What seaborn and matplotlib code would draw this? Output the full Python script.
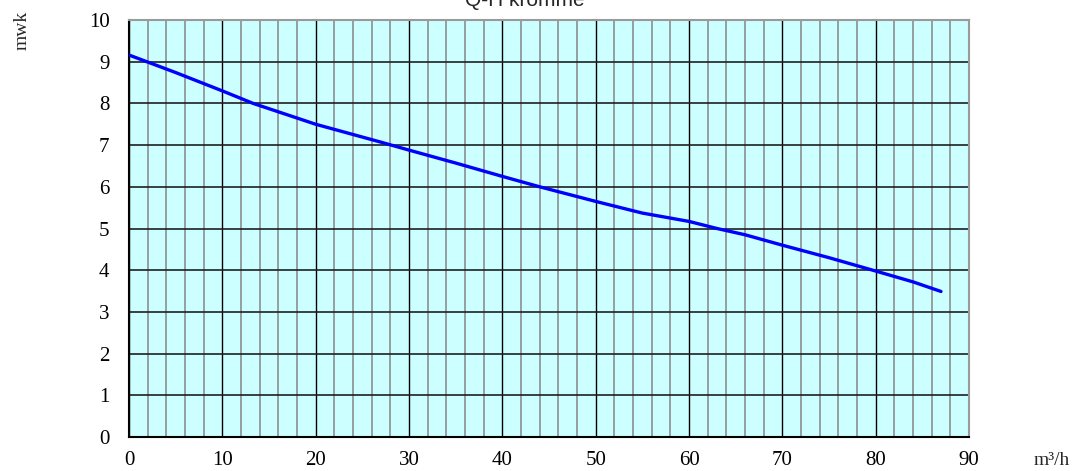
import matplotlib
matplotlib.use("Agg")
import matplotlib.pyplot as plt
import seaborn as sns
import pandas as pd
import numpy as np

flow = [0, 5, 10, 13.3, 20, 27, 30, 35, 40, 44, 50, 55, 60, 63, 66, 70, 75, 80, 84, 87]
head = [9.16, 8.74, 8.30, 8.0, 7.5, 7.07, 6.88, 6.57, 6.25, 6.0, 5.65, 5.37, 5.17, 5.0, 4.85, 4.6, 4.3, 3.98, 3.72, 3.49]
x_ticks = [0, 10, 20, 30, 40, 50, 60, 70, 80, 90]
y_ticks = [0, 1, 2, 3, 4, 5, 6, 7, 8, 9, 10]
title = "Q-H kromme"
x_unit = "m³/h"
y_unit = "mwk"

df = pd.DataFrame({"Q": flow, "H": head})

sns.set_theme(style="white")
plt.rcParams['font.family'] = ['Liberation Serif', 'DejaVu Serif']

fig = plt.figure(figsize=(10.78, 4.71), dpi=100)
ax = fig.add_axes([129/1078, 34/471, 840/1078, 417/471])
ax.set_facecolor("#CCFFFF")

# grid
for v in np.arange(0, 91, 2):
    if v % 10 == 0:
        ax.axvline(v, color="black", lw=1.0, zorder=1)
    else:
        ax.axvline(v, color="#969F9F", lw=1.4, zorder=1)
for h in y_ticks:
    ax.axhline(h, color="#202020", lw=1.2, zorder=1)

sns.lineplot(data=df, x="Q", y="H", ax=ax, color="#0000FF", lw=2.4, zorder=3)

ax.set_xlim(0, 90)
ax.set_ylim(0, 10)
ax.set_xticks(x_ticks)
ax.set_yticks(y_ticks)
ax.tick_params(axis="x", length=0, labelsize=15, pad=10, colors="black")
ax.tick_params(axis="y", length=0, labelsize=15, pad=14, colors="black")
ax.set_xlabel("")
ax.set_ylabel("")

for s in ["left", "bottom"]:
    ax.spines[s].set_color("black")
    ax.spines[s].set_linewidth(1.5)
for s in ["top", "right"]:
    ax.spines[s].set_color("#9A9A9A")
    ax.spines[s].set_linewidth(1.5)

fig.text(525/1078, 1 - 6/471, title, ha="center", va="baseline", fontsize=15, family=["Liberation Sans", "DejaVu Sans"])
fig.text(1052/1078, 1 - 465/471, x_unit, ha="center", va="baseline", fontsize=14)
fig.text(22/1078, 1 - 30/471, y_unit, ha="center", va="center", rotation=90, fontsize=14)

fig.savefig("out.png", dpi=100)
